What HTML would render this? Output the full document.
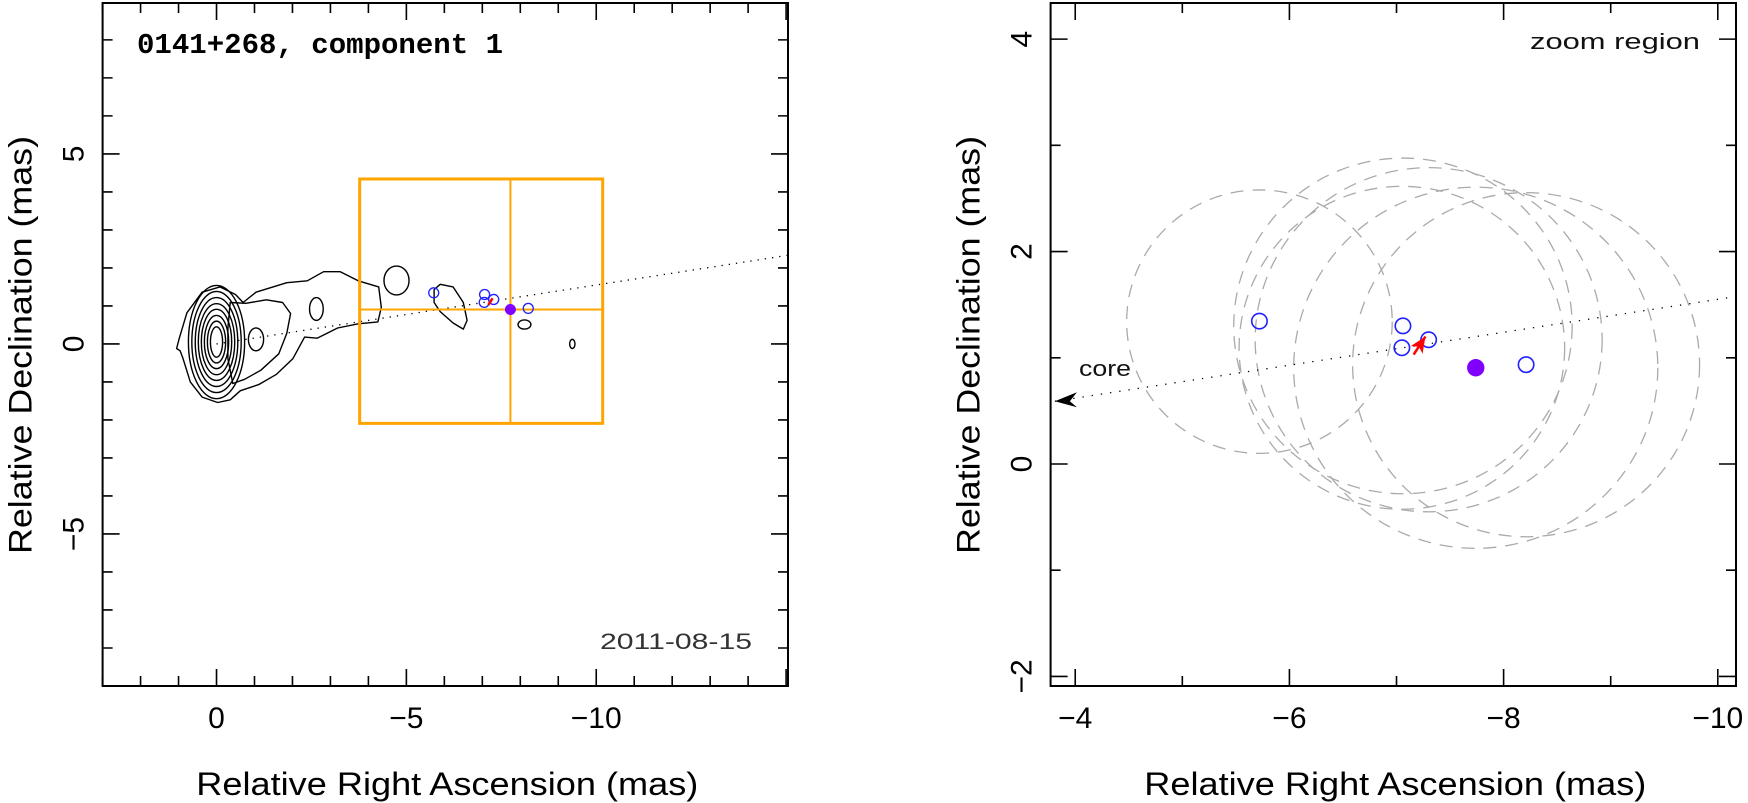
<!DOCTYPE html>
<html><head><meta charset="utf-8"><style>
html,body{margin:0;padding:0;background:#fff;}
svg{display:block;font-family:"Liberation Sans",sans-serif;}
</style></head><body>
<svg id="fig" width="1748" height="803" viewBox="0 0 1748 803" xmlns="http://www.w3.org/2000/svg"></svg>
<script>
// ---- data (mas) ----
const compX = [-5.72, -7.06, -7.05, -7.30, -8.21];
const compY = [1.345, 1.30, 1.094, 1.17, 0.935];
const targetX = -7.74, targetY = 0.906;
const circX = [-5.72, -7.06, -7.05, -7.30, -8.21, -7.74];
const circY = [1.34, 1.30, 1.094, 1.17, 0.935, 0.906];
const circR = [1.24, 1.58, 1.52, 1.62, 1.62, 1.70];
const jetSlope = 0.155; // dec per |RA|
const arrowFrom = [-7.16, 1.03], arrowTo = [-7.27, 1.20];
const zoomBox = [-3.77, -10.17, -2.09, 4.34];
const leftXTickLabels = [0, -5, -10];
const leftYTickLabels = [5, 0, -5];
const rightXTickLabels = [-4, -6, -8, -10];
const rightYTickLabels = [4, 2, 0, -2];
const coreRx = [0.16, 0.24, 0.32, 0.40, 0.48, 0.56, 0.65, 0.74];
const coreRy = [0.40, 0.55, 0.70, 0.86, 1.01, 1.17, 1.33, 1.49];
const outerX = [1.05,0.98,0.78,0.38,-0.09,-0.50,-0.70,-1.04,-1.85,-2.39,-2.82,-3.26,-3.73,-4.27,-4.34,-4.25,-3.73,-3.19,-2.65,-2.32,-2.01,-1.58,-1.11,-0.63,-0.36,-0.03,0.38,0.69,0.88,0.96];
const outerY = [-0.12,0.15,0.82,1.36,1.50,1.30,1.09,1.36,1.61,1.66,1.90,1.90,1.66,1.50,0.96,0.58,0.53,0.42,0.15,0.18,-0.39,-0.80,-1.07,-1.23,-1.47,-1.54,-1.40,-1.00,-0.39,-0.18];
const c2X = [-0.36,-0.77,-1.31,-1.74,-1.95,-1.85,-1.64,-1.17,-0.74,-0.43,-0.30,-0.30];
const c2Y = [1.09,1.07,1.16,1.09,0.80,0.28,-0.26,-0.69,-0.93,-1.04,-0.39,0.42];
const blobX = [-5.73,-5.89,-6.23,-6.50,-6.60,-6.50,-6.23,-5.89,-5.73];
const blobY = [1.43,1.57,1.50,1.09,0.62,0.39,0.55,0.85,1.09];
const ellCX = [-1.04,-2.63,-4.74,-8.11,-9.37];
const ellCY = [0.12,0.92,1.67,0.51,0.0];
const ellRX = [0.20,0.18,0.33,0.17,0.07];
const ellRY = [0.30,0.30,0.38,0.12,0.12];

const NS="http://www.w3.org/2000/svg";
const svg=document.getElementById('fig');
function mk(tag,attrs,parent){const e=document.createElementNS(NS,tag);for(const k in attrs)e.setAttribute(k,attrs[k]);(parent||svg).appendChild(e);return e;}

// panels
const L={x0:102.6,x1:788,y0:3,y1:686,xmin:3,xmax:-15.05,ymin:-9,ymax:8.97};
const R={x0:1050.6,x1:1736,y0:3,y1:686,xmin:-3.77,xmax:-10.17,ymin:-2.09,ymax:4.34};
function sx(P,v){return P.x0+(v-P.xmin)/(P.xmax-P.xmin)*(P.x1-P.x0);}
function sy(P,v){return P.y1-(v-P.ymin)/(P.ymax-P.ymin)*(P.y1-P.y0);}

function axes(P,name,xmaj,ymaj,xlabels,ylabels){
  const g=mk('g',{});
  
  
  const f=mk('rect',{x:P.x0,y:P.y0,width:P.x1-P.x0,height:P.y1-P.y0,fill:'none',stroke:'#000','stroke-width':2},g);
  
  
  const lo=Math.ceil(Math.min(P.xmin,P.xmax)),hi=Math.floor(Math.max(P.xmin,P.xmax));
  for(let v=lo;v<=hi;v++){const x=sx(P,v);const len=(v%xmaj===0)?17:10;
    const t=mk('path',{d:`M${x},${P.y1}v${-len}M${x},${P.y0}v${len}`,stroke:'#000','stroke-width':1.6},g);
    
    }
  const ylo=Math.ceil(P.ymin),yhi=Math.floor(P.ymax);
  for(let v=ylo;v<=yhi;v++){const y=sy(P,v);const len=(v%ymaj===0)?17:10;
    const t=mk('path',{d:`M${P.x0},${y}h${len}M${P.x1},${y}h${-len}`,stroke:'#000','stroke-width':1.6},g);
    
    }
  xlabels.forEach(v=>{const t=mk('text',{x:sx(P,v),y:728,'font-size':30,'text-anchor':'middle',fill:'#000'},g);
    t.textContent=(v<0?'\u2212':'')+Math.abs(v);
    
    });
  ylabels.forEach(v=>{const cx=P.x0-30,cy=sy(P,v);const t=mk('text',{x:cx,y:cy,'font-size':30,'text-anchor':'middle',transform:`rotate(-90 ${cx} ${cy}) translate(0 11)`,fill:'#000'},g);
    t.textContent=(v<0?'\u2212':'')+Math.abs(v);
    
    });
  const xt=mk('text',{x:(P.x0+P.x1)/2+2,y:795,'font-size':32,'text-anchor':'middle',textLength:502,lengthAdjust:'spacingAndGlyphs'},g);
  xt.textContent='Relative Right Ascension (mas)';
  
  
  const yx=P.x0-82,yy=345;
  const yt=mk('text',{x:yx,y:yy,'font-size':32,'text-anchor':'middle',textLength:418,lengthAdjust:'spacingAndGlyphs',transform:`rotate(-90 ${yx} ${yy}) translate(0 11)`},g);
  yt.textContent='Relative Declination (mas)';
  
  
}
axes(L,'left',5,5,leftXTickLabels,leftYTickLabels);
axes(R,'right',2,2,rightXTickLabels,rightYTickLabels);

// clip paths
const defs=mk('defs',{});
const cl=mk('clipPath',{id:'clipL'},defs);mk('rect',{x:L.x0,y:L.y0,width:L.x1-L.x0,height:L.y1-L.y0},cl);
const cr=mk('clipPath',{id:'clipR'},defs);mk('rect',{x:R.x0,y:R.y0,width:R.x1-R.x0,height:R.y1-R.y0},cr);

// ---- left panel ----
const gl=mk('g',{'clip-path':'url(#clipL)'});


function poly(P,xs,ys,g,name){let d='';xs.forEach((x,i)=>{d+=(i?'L':'M')+sx(P,x).toFixed(1)+','+sy(P,ys[i]).toFixed(1);});
  const p=mk('path',{d:d+'Z',fill:'none',stroke:'#000','stroke-width':1.4,'stroke-linejoin':'round'},g);
  
  }
poly(L,outerX,outerY,gl,'contour-outer');
poly(L,c2X,c2Y,gl,'contour-inner');
poly(L,blobX,blobY,gl,'contour-blob');
const kx=(L.x1-L.x0)/Math.abs(L.xmax-L.xmin), ky=(L.y1-L.y0)/(L.ymax-L.ymin);
coreRx.forEach((rx,i)=>{const e=mk('ellipse',{cx:sx(L,0),cy:sy(L,0.05),rx:rx*kx,ry:coreRy[i]*ky,fill:'none',stroke:'#000','stroke-width':1.4},gl);
  
  });
ellCX.forEach((cx,i)=>{const e=mk('ellipse',{cx:sx(L,cx),cy:sy(L,ellCY[i]),rx:ellRX[i]*kx,ry:ellRY[i]*ky,fill:'none',stroke:'#000','stroke-width':1.4},gl);
  
  });
const jl=mk('line',{x1:sx(L,0),y1:sy(L,0),x2:sx(L,-16),y2:sy(L,16*jetSlope),stroke:'#000','stroke-width':1.3,'stroke-dasharray':'1.3 6'},gl);


// zoom box
const zb=mk('rect',{x:sx(L,zoomBox[0]),y:sy(L,zoomBox[3]),width:sx(L,zoomBox[1])-sx(L,zoomBox[0]),height:sy(L,zoomBox[2])-sy(L,zoomBox[3]),fill:'none',stroke:'#ffa500','stroke-width':3},gl);


const zc=mk('path',{d:`M${sx(L,targetX)},${sy(L,zoomBox[3])}V${sy(L,zoomBox[2])}M${sx(L,zoomBox[0])},${sy(L,targetY)}H${sx(L,zoomBox[1])}`,stroke:'#ffa500','stroke-width':2},gl);


compX.forEach((x,i)=>{const c=mk('circle',{cx:sx(L,x),cy:sy(L,compY[i]),r:5,fill:'none',stroke:'#2020ff','stroke-width':1.3},gl);
  
  });
const tl=mk('circle',{cx:sx(L,targetX),cy:sy(L,targetY),r:5.5,fill:'#7f00ff'},gl);


const al=mk('line',{x1:sx(L,arrowFrom[0]),y1:sy(L,arrowFrom[1]),x2:sx(L,arrowTo[0]),y2:sy(L,arrowTo[1]),stroke:'#ff0000','stroke-width':2.5},gl);


const title=mk('text',{x:137,y:53,'font-size':29,'font-family':'Liberation Mono, monospace','font-weight':'bold',textLength:366,lengthAdjust:'spacingAndGlyphs'});
title.textContent='0141+268, component 1';


const dt=mk('text',{x:600,y:649,'font-size':22,fill:'#333',textLength:152,lengthAdjust:'spacingAndGlyphs'});
dt.textContent='2011-08-15';



// ---- right panel ----
const gr=mk('g',{'clip-path':'url(#clipR)'});


const rkx=(R.x1-R.x0)/Math.abs(R.xmax-R.xmin), rky=(R.y1-R.y0)/(R.ymax-R.ymin);
circX.forEach((x,i)=>{const e=mk('ellipse',{cx:sx(R,x),cy:sy(R,circY[i]),rx:circR[i]*rkx,ry:circR[i]*rky,fill:'none',stroke:'#aaa','stroke-width':1.3,'stroke-dasharray':'13 9'},gr);
  
  });
const tipX=-3.81;
const jr=mk('line',{x1:sx(R,tipX),y1:sy(R,-tipX*jetSlope),x2:sx(R,-10.5),y2:sy(R,10.5*jetSlope),stroke:'#000','stroke-width':1.3,'stroke-dasharray':'1.3 8'},gr);


const hx=sx(R,tipX),hy=sy(R,-tipX*jetSlope);
const ah=mk('path',{d:`M${hx},${hy}l22,-9l-7,9l7,6z`,fill:'#000'},gr);


compX.forEach((x,i)=>{const c=mk('circle',{cx:sx(R,x),cy:sy(R,compY[i]),r:7.7,fill:'none',stroke:'#2020ff','stroke-width':1.6},gr);
  
  });
const tr=mk('circle',{cx:sx(R,targetX),cy:sy(R,targetY),r:8.7,fill:'#7f00ff'},gr);


const ax1=sx(R,arrowFrom[0]),ay1=sy(R,arrowFrom[1]),ax2=sx(R,arrowTo[0]),ay2=sy(R,arrowTo[1]);
const ar=mk('line',{x1:ax1,y1:ay1,x2:ax2,y2:ay2,stroke:'#ff0000','stroke-width':2.5},gr);


const ang=Math.atan2(ay2-ay1,ax2-ax1)*180/Math.PI;
const arh=mk('path',{d:'M0,0l-16,-7l4,7l-4,7z',fill:'#ff0000',transform:`translate(${ax2},${ay2}) rotate(${ang})`},gr);


const ct=mk('text',{x:1079,y:376,'font-size':22,fill:'#111',textLength:52,lengthAdjust:'spacingAndGlyphs'});
ct.textContent='core';


const zt=mk('text',{x:1530,y:49,'font-size':22,fill:'#111',textLength:170,lengthAdjust:'spacingAndGlyphs'});
zt.textContent='zoom region';


</script>
</body></html>
